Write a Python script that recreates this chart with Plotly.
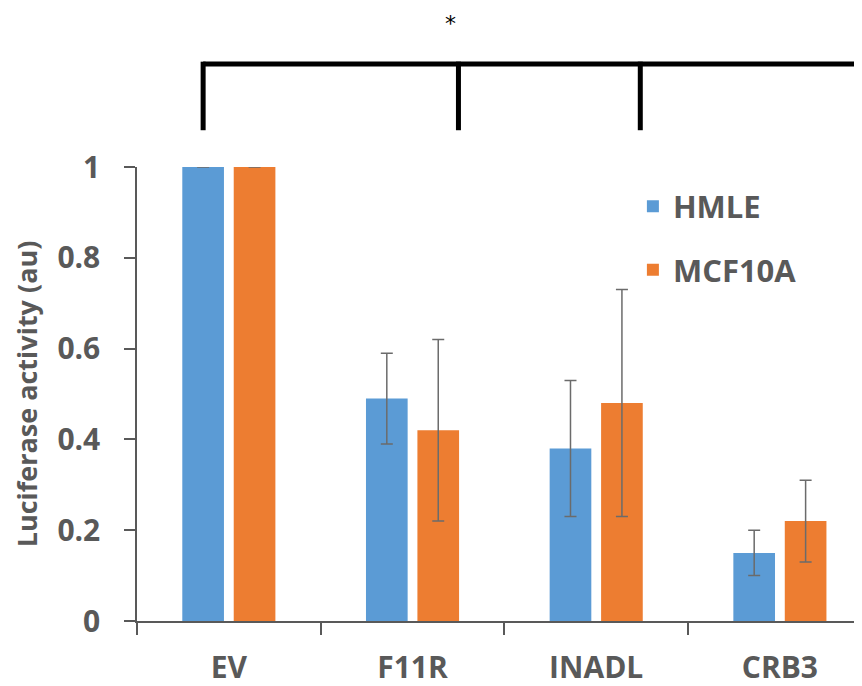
import plotly.graph_objects as go

categories = ["EV", "F11R", "INADL", "CRB3"]
hmle = [1.0, 0.49, 0.38, 0.15]
hmle_err = [0.0, 0.10, 0.15, 0.05]
mcf = [1.0, 0.42, 0.48, 0.22]
mcf_err = [0.0, 0.20, 0.25, 0.09]

BLUE = "#5B9BD5"
ORANGE = "#ED7D31"
GRAY = "#595959"
FONT = "Open Sans"

fig = go.Figure()
fig.add_trace(go.Bar(
    x=categories, y=hmle, name="HMLE", legendgroup="a",
    marker=dict(color=BLUE, line=dict(width=0)),
    error_y=dict(type="data", array=hmle_err, visible=True, color="#6b6b6b", thickness=1.5, width=6),
))
fig.add_trace(go.Bar(
    x=categories, y=mcf, name="MCF10A", legendgroup="b",
    marker=dict(color=ORANGE, line=dict(width=0)),
    error_y=dict(type="data", array=mcf_err, visible=True, color="#6b6b6b", thickness=1.5, width=6),
))

# significance bracket
line = dict(color="black", width=5)
yh = 1.227
yl = 1.081
fig.add_shape(type="line", xref="x", yref="paper", x0=-0.14, x1=3.6, y0=yh, y1=yh, line=line)
for xv in [-0.14, 1.25, 2.24, 3.435]:
    fig.add_shape(type="line", xref="x", yref="paper", x0=xv, x1=xv, y0=yh + 0.005, y1=yl, line=line)
fig.add_annotation(text="*", xref="x", yref="paper", x=1.206, y=1.345, yanchor="top",
                   showarrow=False, borderpad=0,
                   font=dict(family="DejaVu Sans", size=22, color="#000000"))

fig.update_layout(
    width=862, height=686,
    margin=dict(l=129, r=8, t=159, b=73),
    plot_bgcolor="white", paper_bgcolor="white",
    barmode="group", bargap=0.44, bargroupgap=0.19,
    font=dict(family=FONT, color=GRAY),
    showlegend=True,
    legend=dict(x=0.684, y=0.972, xanchor="left", yanchor="top", bgcolor="rgba(0,0,0,0)",
                font=dict(family=FONT, size=31, color=GRAY, weight="bold"), tracegroupgap=20),
    xaxis=dict(range=[-0.5, 3.447], showline=True, linecolor=GRAY, linewidth=1.5,
               ticks="outside", ticklen=12, tickcolor=GRAY, tickwidth=1.5, tickson="boundaries",
               tickfont=dict(family=FONT, size=30, color=GRAY, weight="bold"),
               ticklabelstandoff=19,
               showgrid=False, zeroline=False),
    yaxis=dict(range=[0, 1], showline=True, linecolor=GRAY, linewidth=1.5,
               ticks="outside", ticklen=11, tickcolor=GRAY, tickwidth=1.5,
               tickvals=[0, 0.2, 0.4, 0.6, 0.8, 1], ticktext=["0", "0.2", "0.4", "0.6", "0.8", "1"],
               tickfont=dict(family=FONT, size=30, color=GRAY, weight="bold"),
               ticklabelstandoff=18,
               title=dict(text="Luciferase activity (au)", standoff=12,
                          font=dict(family=FONT, size=27, color=GRAY, weight="bold")),
               showgrid=False, zeroline=False),
)

fig.write_html("out.html")
